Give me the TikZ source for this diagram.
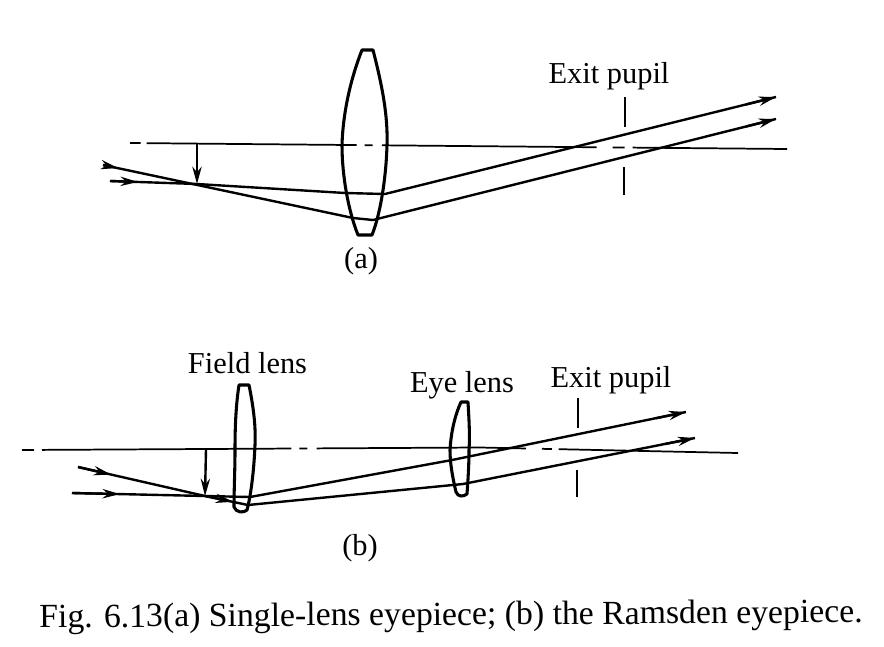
\documentclass[tikz,border=0pt]{standalone}
\usepackage{fontspec}
\setmainfont{Liberation Serif}
\usetikzlibrary{arrows.meta,calc}

\begin{document}
\begin{tikzpicture}[
  x=0.75pt, y=-0.75pt,
  >={Stealth[length=13pt,width=7pt]},
  lens/.style={draw, line width=2.3pt, line join=round},
  ray/.style={line width=1.8pt},
  axisline/.style={line width=1.3pt},
  stopbar/.style={line width=2.1pt},
  label/.style={font=\fontsize{22.8}{26}\selectfont, inner sep=0pt},
  caption/.style={font=\fontsize{25.3}{29}\selectfont, inner sep=0pt}
]
  \useasboundingbox (0,0) rectangle (884,646);

  % Part (a) points
  \coordinate (axL) at (130,143);
  \coordinate (axR) at (787,149);
  \coordinate (tipA) at (197,184);
  \coordinate (footA) at (197,144);
  \coordinate (startA) at (103,165);
  \coordinate (startB) at (110,181);
  \coordinate (lensAa) at (353,218);
  \coordinate (lensAb) at (373,220);
  \coordinate (lensBa) at (345,193);
  \coordinate (lensBb) at (385,194);
  \coordinate (endA) at (776,119);
  \coordinate (endB) at (776,97);

  % Axis (a)
  \draw[axisline, dash pattern=on 8pt off 4.5pt on 157.5pt off 6pt on 6pt off 7pt on 161pt off 12pt on 9pt off 6pt on 300pt] (axL) -- (axR);

  % Lens (a)
  \draw[lens] (362,50) -- (373,50) .. controls (382,85) and (388,115) .. (387,145)
    .. controls (386,180) and (380,215) .. (372,235) -- (358,235)
    .. controls (348,210) and (342,175) .. (342,145)
    .. controls (343,110) and (352,75) .. (362,50) -- cycle;

  % Rays (a)
  \draw[ray] (startA) -- (lensAa) -- (lensAb) -- (endA);
  \draw[ray] (startB) -- (tipA) -- (lensBa) -- (lensBb) -- (endB);
  \draw[ray, ->] (startA) -- ($(startA)!0.16!(tipA)$);
  \draw[ray, ->] (startB) -- ($(startB)!0.32!(tipA)$);
  \draw[ray, ->] ($(endA)+(-30,7.5)$) -- (endA);
  \draw[ray, ->] ($(endB)+(-30,7.5)$) -- (endB);
  \draw[ray, ->] (footA) -- (tipA);

  % Exit pupil (a)
  \coordinate (stopAa) at (625,97);
  \coordinate (stopAb) at (625,127);
  \coordinate (stopAc) at (624,167);
  \coordinate (stopAd) at (624,195);
  \draw[stopbar] (stopAa) -- (stopAb);
  \draw[stopbar] (stopAc) -- (stopAd);

  \node[label] (pupilA) at (609,76) {Exit pupil};
  \node[label] (capA) at (361,261) {(a)};

  % Part (b) points
  \coordinate (axC) at (22,450);
  \coordinate (axM) at (480,447.5);
  \coordinate (axD) at (738,453);
  \coordinate (tipB) at (205,496);
  \coordinate (footB) at (206,449);
  \coordinate (startC) at (78,467);
  \coordinate (startD) at (72,493);
  \coordinate (fieldC) at (248,505);
  \coordinate (fieldD) at (250,497);
  \coordinate (eyeC) at (463,484);
  \coordinate (eyeD) at (452,460);
  \coordinate (endC) at (695,438);
  \coordinate (endD) at (686,412);

  % Axis (b)
  \draw[axisline, dash pattern=on 9pt off 6pt on 187pt off 6pt on 6pt off 7pt on 157pt off 12pt on 7.5pt off 5pt on 200pt] (axC) -- (axM) -- (axD);

  % Field lens
  \draw[lens] (239,385) -- (249,385) .. controls (253,405) and (256,425) .. (255,445)
    .. controls (254,470) and (251,495) .. (247,510)
    .. controls (244,513) and (236,513) .. (234,507)
    .. controls (234,490) and (235,470) .. (235,450)
    .. controls (235,425) and (236,405) .. (239,385) -- cycle;

  % Eye lens
  \draw[lens] (461,402) -- (468,402) .. controls (469,420) and (470,435) .. (469,450)
    .. controls (469,465) and (468,480) .. (467,494)
    .. controls (463,497) and (458,497) .. (456,492)
    .. controls (452,475) and (450,462) .. (450,450)
    .. controls (451,432) and (455,415) .. (461,402) -- cycle;

  % Rays (b)
  \draw[ray] (startC) -- (tipB) -- (fieldC) -- (eyeC) -- (endC);
  \draw[ray] (startD) -- (tipB) -- (fieldD) -- (eyeD) -- (endD);
  \draw[ray, ->] (startC) -- ($(startC)!0.26!(tipB)$);
  \draw[ray, ->] (startD) -- ($(startD)!0.36!(tipB)$);
  \draw[ray, ->] (tipB) -- ($(tipB)!0.65!(fieldC)$);
  \draw[ray, ->] ($(endC)+(-30,6)$) -- (endC);
  \draw[ray, ->] ($(endD)+(-30,6.2)$) -- (endD);
  \draw[ray, ->] (footB) -- (tipB);

  % Exit pupil (b)
  \coordinate (stopBa) at (578,398);
  \coordinate (stopBb) at (578,428);
  \coordinate (stopBc) at (577,470);
  \coordinate (stopBd) at (577,497);
  \draw[stopbar] (stopBa) -- (stopBb);
  \draw[stopbar] (stopBc) -- (stopBd);

  \node[label] (fieldName) at (247.5,363) {Field lens};
  \node[label] (eyeName) at (462,385) {Eye lens};
  \node[label] (pupilB) at (611,380) {Exit pupil};
  \node[label] (capB) at (360,548) {(b)};

  % Caption
  \node[caption, rotate=0.35] (figCap) at (451,617)
    {Fig. 6.13(a) Single-lens eyepiece; (b) the Ramsden eyepiece.};
\end{tikzpicture}
\end{document}
